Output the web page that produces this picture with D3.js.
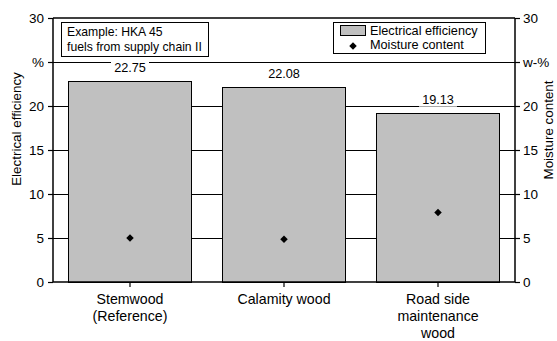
<!DOCTYPE html>
<html><head><meta charset="utf-8">
<script src="https://cdn.jsdelivr.net/npm/d3@7"></script>
<style>body{margin:0;background:#fff}svg{display:block;font-family:"Liberation Sans",Arial,sans-serif}</style>
</head><body>
<svg id="c" width="557" height="341"></svg>
<script>
const categories = [["Stemwood","(Reference)"],["Calamity wood"],["Road side","maintenance","wood"]];
const efficiency = [22.75, 22.08, 19.13];
const moisture = [5.0, 4.85, 7.9];
const tickValues = [0, 5, 10, 15, 20, 25, 30];
const leftTickLabels = ["0", "5", "10", "15", "20", "%", "30"];
const rightTickLabels = ["0", "5", "10", "15", "20", "w-%", "30"];
const legendLabels = ["Electrical efficiency", "Moisture content"];
const noteLines = ["Example: HKA 45", "fuels from supply chain II"];

const svg = d3.select("#c");
const L = 53, R = 515, T = 18, B = 282;
const x = d3.scaleBand().domain(d3.range(categories.length)).range([L, R]).paddingInner(0.2).paddingOuter(0.1);
const y = d3.scaleLinear().domain([0, 30]).range([B, T]);

// gridlines
svg.append("g").selectAll("line").data(tickValues.filter(v => v > 0 && v < 30)).join("line")
  .attr("x1", L).attr("x2", R).attr("y1", d => y(d)).attr("y2", d => y(d))
  .attr("stroke", "#000").attr("stroke-width", 1).attr("shape-rendering", "crispEdges");

// bars
svg.append("g").selectAll("rect").data(efficiency).join("rect")
  .attr("x", (d, i) => x(i)).attr("width", x.bandwidth())
  .attr("y", d => y(d)).attr("height", d => B - y(d))
  .attr("fill", "#c0c0c0").attr("stroke", "#000").attr("stroke-width", 1)
  .attr("shape-rendering", "crispEdges");

// bar value labels with white background
const lab = svg.append("g").selectAll("g").data(efficiency).join("g")
  .attr("transform", (d, i) => `translate(${x(i) + x.bandwidth() / 2},${y(d) - 10})`);
lab.append("rect").attr("x", -19).attr("y", -11).attr("width", 38).attr("height", 14).attr("fill", "#fff");
lab.append("text").attr("text-anchor", "middle").attr("font-size", 12.7).text(d => d.toFixed(2));

// frame
svg.append("line").attr("x1", L).attr("x2", R).attr("y1", T).attr("y2", T).attr("stroke", "#000").attr("stroke-width", 1.3);

// axes
const yl = d3.axisLeft(y).tickValues(tickValues).tickSize(5).tickFormat((d, i) => leftTickLabels[i]);
const gl = svg.append("g").attr("transform", `translate(${L},0)`).call(yl);
const yr = d3.axisRight(y).tickValues(tickValues).tickSize(5).tickFormat((d, i) => rightTickLabels[i]);
const gr = svg.append("g").attr("transform", `translate(${R},0)`).call(yr);
[gl, gr].forEach(g => {
  g.select(".domain").attr("d", `M0,${T}V${B}`).attr("stroke-width", 1.5);
  g.selectAll("text").attr("font-size", 13.5).attr("fill", "#000").attr("font-family", "Liberation Sans, Arial, sans-serif");
  g.selectAll("line").attr("stroke", "#000").attr("stroke-width", 1.2);
});
gl.selectAll("text").attr("x", -9);
gr.selectAll("text").attr("x", 8);

const xa = d3.axisBottom(x).tickSize(5).tickFormat("");
const gx = svg.append("g").attr("transform", `translate(0,${B})`).call(xa);
gx.select(".domain").attr("d", `M${L},0H${R}`).attr("stroke-width", 1.5);
gx.selectAll("line").attr("stroke", "#000").attr("stroke-width", 1.2);

// category labels
svg.append("g").selectAll("text").data(categories).join("text")
  .attr("text-anchor", "middle").attr("font-size", 14.2)
  .attr("transform", (d, i) => `translate(${x(i) + x.bandwidth() / 2},0)`)
  .selectAll("tspan").data(d => d).join("tspan")
  .attr("x", 0).attr("y", (d, j) => 304 + j * 16.8).text(d => d);

// moisture diamonds
const dia = d3.symbol().type(d3.symbolSquare).size(28);
svg.append("g").selectAll("path").data(moisture).join("path")
  .attr("d", dia)
  .attr("transform", (d, i) => `translate(${x(i) + x.bandwidth() / 2},${y(d)}) rotate(45)`)
  .attr("fill", "#000");

// axis titles
svg.append("text").attr("transform", `translate(21,129) rotate(-90)`).attr("text-anchor", "middle").attr("font-size", 13.4).text(legendLabels[0]);
svg.append("text").attr("transform", `translate(553,130) rotate(-90)`).attr("text-anchor", "middle").attr("font-size", 13.4).text(legendLabels[1]);

// note box
svg.append("rect").attr("x", 61.5).attr("y", 22.5).attr("width", 147).attr("height", 34).attr("fill", "#fff").attr("stroke", "#000");
svg.append("g").selectAll("text").data(noteLines).join("text")
  .attr("x", 67).attr("y", (d, i) => 35.5 + i * 15).attr("font-size", 12.2).text(d => d);

// legend
const lg = svg.append("g");
lg.append("rect").attr("x", 333.5).attr("y", 22.5).attr("width", 152).attr("height", 31).attr("fill", "#fff").attr("stroke", "#000");
lg.append("rect").attr("x", 340.5).attr("y", 25.5).attr("width", 25).attr("height", 10).attr("fill", "#c0c0c0").attr("stroke", "#000");
lg.append("path").attr("d", dia).attr("transform", "translate(353,46) rotate(45)").attr("fill", "#000");
lg.selectAll("text").data(legendLabels).join("text")
  .attr("x", 370).attr("y", (d, i) => 35 + i * 14).attr("font-size", 12.7).text(d => d);
</script>
</body></html>
